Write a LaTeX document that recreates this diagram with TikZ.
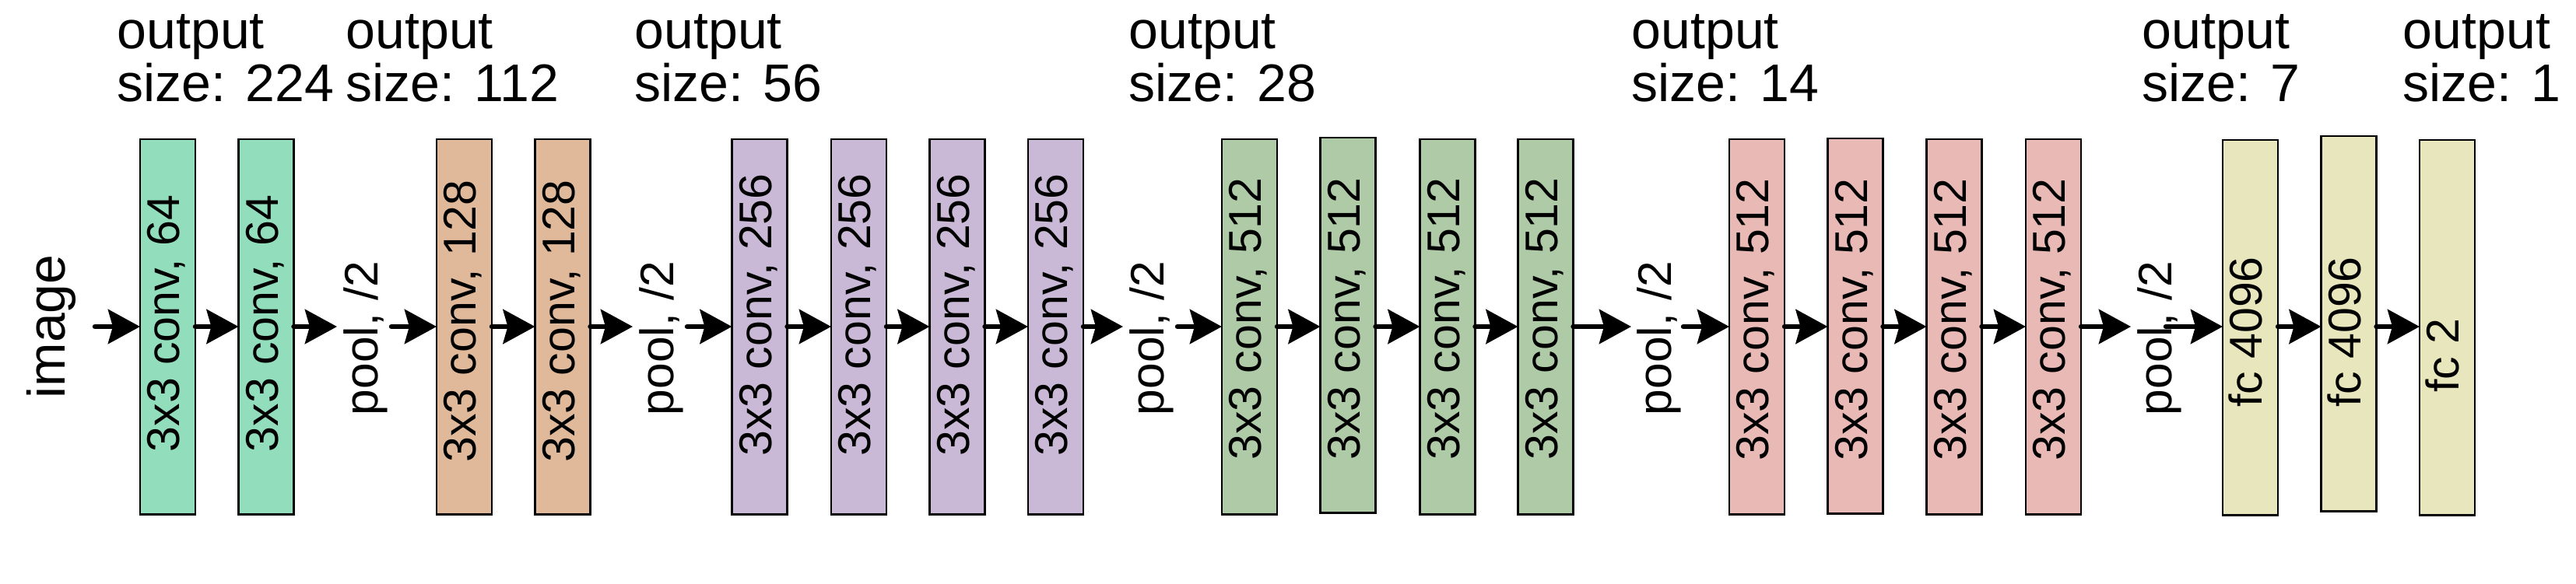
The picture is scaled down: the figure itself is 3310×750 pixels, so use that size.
\documentclass[tikz,border=0pt]{standalone}
\usepackage{fontspec}
\setmainfont{Liberation Sans}
\usetikzlibrary{arrows.meta}
\definecolor{cA}{HTML}{92DDBB}
\definecolor{cB}{HTML}{E0B89A}
\definecolor{cC}{HTML}{C9B9D6}
\definecolor{cD}{HTML}{AECAA6}
\definecolor{cE}{HTML}{E9B9B6}
\definecolor{cF}{HTML}{E8E6BC}
\tikzset{
  layer/.style={draw=black, line width=0.77pt, minimum width=0.71cm, minimum height=4.82cm, inner sep=0pt, outer sep=0pt},
  lbl/.style={rotate=90, anchor=base, inner sep=0pt, font=\fontsize{16.8pt}{20pt}\selectfont},
  pooltxt/.style={rotate=90, anchor=base, inner sep=0pt, font=\fontsize{17.2pt}{20pt}\selectfont},
  imgtxt/.style={rotate=90, anchor=base, inner sep=0pt, font=\fontsize{19.3pt}{22pt}\selectfont},
  hdr/.style={align=left, anchor=base west, inner sep=0pt, font=\fontsize{19.35pt}{19.06pt}\selectfont},
  arr/.style={line width=1.85pt, line cap=round, -{Stealth[length=0.41cm,width=0.44cm,inset=0.06cm]}},
}
\begin{document}
\begin{tikzpicture}[x=0.01cm, y=-0.01cm]
\useasboundingbox (0,0) rectangle (3310,750);
% headers
\node[hdr] (h1) at (150,130) {output\\size: 224};
\node[hdr] (h2) at (444,130) {output\\size: 112};
\node[hdr] (h3) at (815,130) {output\\size: 56};
\node[hdr] (h4) at (1450,130) {output\\size: 28};
\node[hdr] (h5) at (2096,130) {output\\size: 14};
\node[hdr] (h6) at (2752,130) {output\\size: 7};
\node[hdr] (h7) at (3087,130) {output\\size: 1};
% input
\node[imgtxt] (im) at (83,420) {image};
\coordinate (imout) at (122,420);
% layers
\node[layer, fill=cA] (b1) at (215.5,420) {};
\node[layer, fill=cA] (b2) at (342,420) {};
\node[layer, fill=cB] (b3) at (596.5,420) {};
\node[layer, fill=cB] (b4) at (723,420) {};
\node[layer, fill=cC] (b5) at (976,420) {};
\node[layer, fill=cC] (b6) at (1103.5,420) {};
\node[layer, fill=cC] (b7) at (1230,420) {};
\node[layer, fill=cC] (b8) at (1356.5,420) {};
\node[layer, fill=cD] (b9) at (1605.5,420) {};
\node[layer, fill=cD] (b10) at (1732,418) {};
\node[layer, fill=cD] (b11) at (1860,420) {};
\node[layer, fill=cD] (b12) at (1986,420) {};
\node[layer, fill=cE] (b13) at (2257.5,420) {};
\node[layer, fill=cE] (b14) at (2384,419) {};
\node[layer, fill=cE] (b15) at (2511,420) {};
\node[layer, fill=cE] (b16) at (2638.5,420) {};
\node[layer, fill=cF] (b17) at (2891.5,421) {};
\node[layer, fill=cF] (b18) at (3018,416) {};
\node[layer, fill=cF] (b19) at (3144.5,421) {};
% labels
\node[lbl] (t1) at (230.5,416) {3x3 conv, 64};
\node[lbl] (t2) at (357,416) {3x3 conv, 64};
\node[lbl] (t3) at (611.5,413) {3x3 conv, 128};
\node[lbl] (t4) at (738,413) {3x3 conv, 128};
\node[lbl] (t5) at (991,405) {3x3 conv, 256};
\node[lbl] (t6) at (1118.5,405) {3x3 conv, 256};
\node[lbl] (t7) at (1245,405) {3x3 conv, 256};
\node[lbl] (t8) at (1371.5,405) {3x3 conv, 256};
\node[lbl] (t9) at (1620.5,410) {3x3 conv, 512};
\node[lbl] (t10) at (1747,410) {3x3 conv, 512};
\node[lbl] (t11) at (1875,410) {3x3 conv, 512};
\node[lbl] (t12) at (2001,410) {3x3 conv, 512};
\node[lbl] (t13) at (2272.5,411) {3x3 conv, 512};
\node[lbl] (t14) at (2399,411) {3x3 conv, 512};
\node[lbl] (t15) at (2526,411) {3x3 conv, 512};
\node[lbl] (t16) at (2653.5,411) {3x3 conv, 512};
\node[lbl] (t17) at (2906.5,427) {fc 4096};
\node[lbl] (t18) at (3033,427) {fc 4096};
\node[lbl] (t19) at (3159.5,457) {fc 2};
% pools
\node[pooltxt] (p1) at (485,435) {pool, /2};
\node[pooltxt] (p2) at (865,435) {pool, /2};
\node[pooltxt] (p3) at (1495,435) {pool, /2};
\node[pooltxt] (p4) at (2147,435) {pool, /2};
\node[pooltxt] (p5) at (2790,435) {pool, /2};
\coordinate (p1in) at (433,420);  \coordinate (p1out) at (503,420);
\coordinate (p2in) at (813,420);  \coordinate (p2out) at (883,420);
\coordinate (p3in) at (1443,420); \coordinate (p3out) at (1513,420);
\coordinate (p4in) at (2096,420); \coordinate (p4out) at (2163,420);
\coordinate (p5in) at (2738,420); \coordinate (p5out) at (2783,420);
% connectors
\draw[arr] (imout) -- (b1.west);
\draw[arr] (b1.east) -- (b2.west);
\draw[arr] (b2.east) -- (p1in);
\draw[arr] (p1out) -- (b3.west);
\draw[arr] (b3.east) -- (b4.west);
\draw[arr] (b4.east) -- (p2in);
\draw[arr] (p2out) -- (b5.west);
\draw[arr] (b5.east) -- (b6.west);
\draw[arr] (b6.east) -- (b7.west);
\draw[arr] (b7.east) -- (b8.west);
\draw[arr] (b8.east) -- (p3in);
\draw[arr] (p3out) -- (b9.west);
\draw[arr] (b9.east) -- (b9.east -| b10.west);
\draw[arr] (b10.east |- b9.east) -- (b11.west);
\draw[arr] (b11.east) -- (b12.west);
\draw[arr] (b12.east) -- (p4in);
\draw[arr] (p4out) -- (b13.west);
\draw[arr] (b13.east) -- (b13.east -| b14.west);
\draw[arr] (b14.east |- b13.east) -- (b15.west);
\draw[arr] (b15.east) -- (b16.west);
\draw[arr] (b16.east) -- (p5in);
\draw[arr] (p5out) -- (b17.west |- p5out);
\draw[arr] (b17.east |- p5out) -- (b18.west |- p5out);
\draw[arr] (b18.east |- p5out) -- (b19.west |- p5out);
\end{tikzpicture}
\end{document}
